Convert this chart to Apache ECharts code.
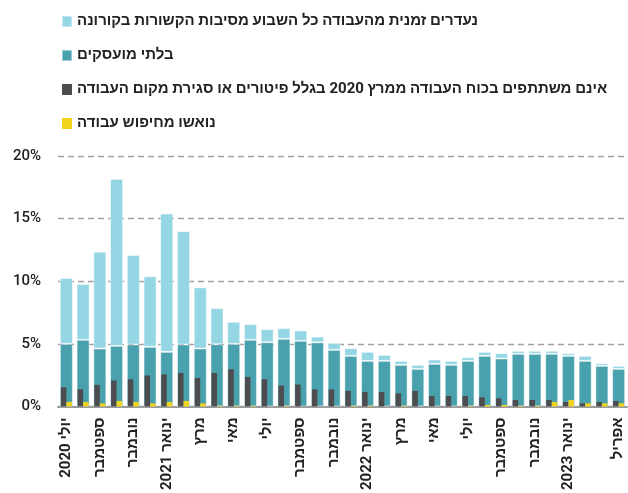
<!DOCTYPE html>
<html>
<head>
<meta charset="utf-8">
<script src="https://cdn.jsdelivr.net/npm/echarts@6/dist/echarts.min.js"></script>
<style>
html,body{margin:0;padding:0;background:#fff;}
#chart{width:628px;height:493px;}
</style>
</head>
<body>
<div id="chart"></div>
<script>
var categories = [
  'יולי 2020','אוגוסט','ספטמבר','אוקטובר','נובמבר','דצמבר',
  'ינואר 2021','פברואר','מרץ','אפריל','מאי','יוני','יולי','אוגוסט','ספטמבר','אוקטובר','נובמבר','דצמבר',
  'ינואר 2022','פברואר','מרץ','אפריל','מאי','יוני','יולי','אוגוסט','ספטמבר','אוקטובר','נובמבר','דצמבר',
  'ינואר 2023','פברואר','מרץ','אפריל'
];
var labeledIdx = [0,2,4,6,8,10,12,14,16,18,20,22,24,26,28,30,33];
var yTicks = [0,5,10,15,20];

var seriesNames = [
  'נעדרים זמנית מהעבודה כל השבוע מסיבות הקשורות בקורונה',
  'בלתי מועסקים',
  'אינם משתתפים בכוח העבודה ממרץ 2020 בגלל פיטורים או סגירת מקום העבודה ',
  'נואשו מחיפוש עבודה'
];

var unemployed = [5.0,5.32,4.63,4.84,4.95,4.76,4.36,4.95,4.63,4.97,5.0,5.32,5.13,5.4,5.24,5.12,4.52,4.04,3.64,3.64,3.32,3.0,3.4,3.32,3.64,4.04,3.83,4.2,4.2,4.2,4.04,3.64,3.24,3.0];
var absentCovid = [5.26,4.45,7.73,13.33,7.14,5.63,11.04,9.04,4.88,2.88,1.76,1.25,1.04,0.85,0.83,0.45,0.56,0.61,0.72,0.48,0.32,0.32,0.35,0.32,0.29,0.32,0.42,0.24,0.24,0.24,0.21,0.4,0.21,0.24];
var notParticipating = [1.53,1.37,1.72,2.07,2.17,2.47,2.57,2.68,2.28,2.68,2.97,2.36,2.17,1.67,1.75,1.37,1.37,1.24,1.16,1.16,1.05,1.24,0.84,0.84,0.84,0.73,0.65,0.52,0.52,0.52,0.36,0.25,0.36,0.44];
var discouraged = [0.36,0.36,0.25,0.44,0.36,0.25,0.36,0.44,0.25,0.05,0.05,0.05,0,0.05,0,0,0,0.05,0.05,0,0.05,0,0,0,0.05,0.12,0.12,0.05,0.05,0.36,0.52,0.25,0.25,0.25];

var colors = ['#94d6e3','#4aa1ae','#4d4d4f','#f0d31c'];
var fontFam = "Roboto, 'Liberation Sans', sans-serif";

var chart = echarts.init(document.getElementById('chart'), null, {renderer:'canvas'});
chart.setOption({
  animation:false,
  textStyle:{fontFamily:fontFam},
  legend:{
    orient:'vertical', left:56, top:9,
    itemWidth:10, itemHeight:11, itemGap:19,
    icon:'rect',
    selectedMode:false,
    textStyle:{fontSize:15, color:'#222', fontFamily:fontFam, fontWeight:'bold'},
    data:seriesNames
  },
  grid:{left:58, right:1, top:156, bottom:86.5},
  xAxis:[{
    type:'category', data:categories,
    axisTick:{show:false},
    axisLine:{lineStyle:{color:'#9a9a9a', width:2}},
    axisLabel:{
      rotate:90, fontSize:15, color:'#222', fontWeight:'bold', margin:11,
      interval:function(i){return labeledIdx.indexOf(i) >= 0;}
    }
  },{
    type:'category', data:categories, show:false
  }],
  yAxis:{
    type:'value', min:yTicks[0], max:yTicks[yTicks.length-1], interval:5,
    axisLine:{show:false}, axisTick:{show:false},
    splitLine:{lineStyle:{type:[6,4], color:'#a0a0a0', width:1.3}},
    axisLabel:{formatter:'{value}%', fontSize:15, color:'#222', fontWeight:500, margin:17}
  },
  series:[
    {name:seriesNames[1], type:'bar', stack:'s', xAxisIndex:0, data:unemployed, barWidth:13,
      itemStyle:{color:colors[1], borderColor:'rgba(255,255,255,0.45)', borderWidth:1}, z:2},
    {name:seriesNames[0], type:'bar', stack:'s', xAxisIndex:0, data:absentCovid, barWidth:13,
      itemStyle:{color:colors[0], borderColor:'rgba(255,255,255,0.45)', borderWidth:1}, z:2},
    {name:seriesNames[2], type:'bar', xAxisIndex:1, data:notParticipating, barWidth:5.5, barGap:'0%',
      itemStyle:{color:colors[2]}, z:5},
    {name:seriesNames[3], type:'bar', xAxisIndex:1, data:discouraged, barWidth:5.5, barGap:'0%',
      itemStyle:{color:colors[3]}, z:5}
  ]
});
</script>
</body>
</html>
